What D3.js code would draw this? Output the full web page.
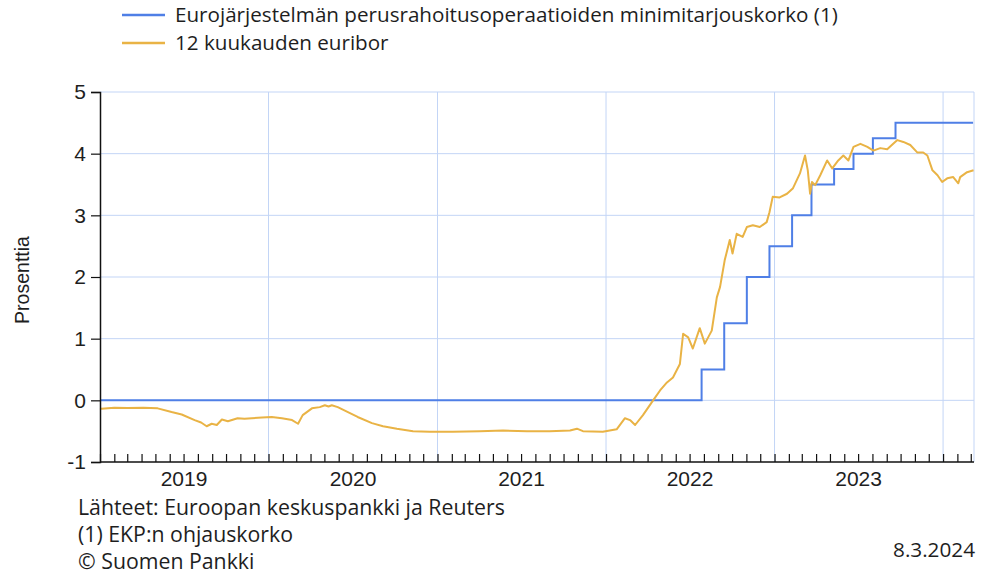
<!DOCTYPE html>
<html><head><meta charset="utf-8">
<script src="https://cdn.jsdelivr.net/npm/d3@7"></script>
<style>
body{margin:0;background:#fff}
text{font-family:"Liberation Sans",Arial,sans-serif;fill:#1e1e1e}
.ui{font-family:"Open Sans","Noto Sans",sans-serif}
</style>
</head><body>
<svg id="c" width="992" height="575"></svg>
<script>
// ---- data ----
const seriesNames = ["Eurojärjestelmän perusrahoitusoperaatioiden minimitarjouskorko (1)", "12 kuukauden euribor"];
const seriesColors = ["#4f7fe6", "#e9b345"];

const ecbDates  = ["2019-01-01","2022-07-27","2022-09-14","2022-11-02","2022-12-21","2023-02-08","2023-03-22","2023-05-10","2023-06-21","2023-08-02","2023-09-20","2024-03-06"];
const ecbValues = [0, 0.5, 1.25, 2.0, 2.5, 3.0, 3.5, 3.75, 4.0, 4.25, 4.5, 4.5];

const euriborDates = [
 "2019-01-01","2019-01-04","2019-02-01","2019-03-02","2019-04-05","2019-05-06","2019-06-05","2019-06-27","2019-07-25","2019-08-08","2019-08-20","2019-08-31","2019-09-11","2019-09-22","2019-10-05","2019-10-26","2019-11-10","2019-11-26","2019-12-18",
 "2020-01-08","2020-01-30","2020-02-21","2020-03-05","2020-03-15","2020-04-04","2020-04-21","2020-05-02","2020-05-10","2020-05-17","2020-05-30","2020-06-21","2020-07-12","2020-08-12","2020-09-05","2020-10-05","2020-11-09","2020-12-15",
 "2021-02-03","2021-04-03","2021-05-23","2021-07-14","2021-09-01","2021-10-15","2021-10-30","2021-11-12","2021-12-25",
 "2022-01-24","2022-02-11","2022-02-22","2022-03-05","2022-03-22","2022-04-13","2022-04-28","2022-05-13","2022-05-26","2022-06-10","2022-06-17","2022-06-28","2022-07-08","2022-07-23","2022-08-03","2022-08-18","2022-08-29","2022-09-05","2022-09-15","2022-09-26","2022-10-02","2022-10-11","2022-10-24","2022-11-02","2022-11-15","2022-11-30","2022-12-15","2022-12-21","2022-12-28",
 "2023-01-12","2023-01-28","2023-02-10","2023-02-25","2023-03-08","2023-03-14","2023-03-19","2023-03-23","2023-03-30","2023-04-10","2023-04-25","2023-05-06","2023-05-19","2023-05-30","2023-06-10","2023-06-21","2023-07-06","2023-07-21","2023-08-03","2023-08-18","2023-09-02","2023-09-15","2023-09-24","2023-10-07","2023-10-22","2023-11-06","2023-11-19","2023-11-28","2023-12-09","2023-12-20","2023-12-30",
 "2024-01-10","2024-01-23","2024-02-03","2024-02-07","2024-02-22","2024-03-07"];
const euriborValues = [
 -0.13,-0.135,-0.12,-0.125,-0.12,-0.13,-0.19,-0.23,-0.32,-0.36,-0.42,-0.38,-0.40,-0.31,-0.34,-0.29,-0.30,-0.29,-0.28,
 -0.27,-0.29,-0.32,-0.38,-0.24,-0.13,-0.11,-0.08,-0.10,-0.08,-0.11,-0.19,-0.27,-0.37,-0.42,-0.46,-0.50,-0.51,
 -0.51,-0.50,-0.49,-0.50,-0.50,-0.49,-0.46,-0.50,-0.51,
 -0.47,-0.29,-0.32,-0.40,-0.24,0.0,0.16,0.29,0.37,0.59,1.08,1.02,0.84,1.17,0.92,1.13,1.67,1.84,2.27,2.60,2.38,2.70,2.65,2.81,2.84,2.81,2.89,3.05,3.30,
 3.29,3.35,3.44,3.68,3.97,3.73,3.35,3.54,3.49,3.65,3.89,3.76,3.89,3.97,3.89,4.11,4.16,4.11,4.05,4.09,4.07,4.16,4.22,4.19,4.14,4.02,4.02,3.97,3.73,3.65,3.54,
 3.60,3.62,3.52,3.62,3.70,3.73];

const yTicks = [-1, 0, 1, 2, 3, 4, 5];
const yearLabels = ["2019", "2020", "2021", "2022", "2023"];
const yearGrid = ["2020", "2021", "2022", "2023", "2024"];
const yLabel = "Prosenttia";
const footnotes = ["Lähteet: Euroopan keskuspankki ja Reuters", "(1) EKP:n ohjauskorko", "© Suomen Pankki"];
const dateStamp = "8.3.2024";
const xStart = "2019-01-01", xEnd = "2024-03-08";

// ---- layout ----
const svg = d3.select("#c");
const L = 100, R = 974, T = 92, B = 462;
const parse = d3.timeParse("%Y-%m-%d");
const x = d3.scaleTime().domain([parse(xStart), parse(xEnd)]).range([L, R]);
const y = d3.scaleLinear().domain([-1, 5]).range([B, T]);
const gridColor = "#c3d5f6";

function fitGroup(sel, width, base) {
  const n = sel.nodes()[0];
  const w = n.getComputedTextLength();
  sel.attr("font-size", (base * width / w).toFixed(2));
}

svg.append("g").selectAll("line").data(yTicks.filter(d => d > -1)).join("line")
  .attr("x1", L).attr("x2", R).attr("y1", d => y(d)).attr("y2", d => y(d))
  .attr("stroke", gridColor).attr("stroke-width", 1);
svg.append("g").selectAll("line").data(yearGrid).join("line")
  .attr("x1", d => x(parse(d + "-01-01"))).attr("x2", d => x(parse(d + "-01-01")))
  .attr("y1", T).attr("y2", B).attr("stroke", gridColor).attr("stroke-width", 1);
svg.append("line").attr("x1", R).attr("x2", R).attr("y1", T).attr("y2", B).attr("stroke", gridColor);

const ecb = ecbDates.map((d, i) => ({d: parse(d), v: ecbValues[i]}));
const eur = euriborDates.map((d, i) => ({d: parse(d), v: euriborValues[i]}));
svg.append("path").datum(ecb)
  .attr("d", d3.line().x(p => x(p.d)).y(p => y(p.v)).curve(d3.curveStepAfter))
  .attr("fill", "none").attr("stroke", seriesColors[0]).attr("stroke-width", 2);
svg.append("path").datum(eur)
  .attr("d", d3.line().x(p => x(p.d)).y(p => y(p.v)))
  .attr("fill", "none").attr("stroke", seriesColors[1]).attr("stroke-width", 2).attr("stroke-linejoin", "round");

const yAx = svg.append("g").attr("transform", `translate(${L},0)`)
  .call(d3.axisLeft(y).tickValues(yTicks).tickFormat(d => String(d)).tickSize(9).tickPadding(5));
yAx.select(".domain").attr("stroke", "#111").attr("stroke-width", 1.5);
yAx.selectAll(".tick line").attr("stroke", "#111").attr("stroke-width", 1.2);
yAx.selectAll("text").attr("font-size", 21).attr("fill", "#1e1e1e");

const xAx = svg.append("g").attr("transform", `translate(0,${B})`)
  .call(d3.axisBottom(x).ticks(d3.timeMonth.every(1)).tickSize(-8).tickFormat(""));
xAx.select(".domain").attr("stroke", "#111").attr("stroke-width", 1.5).attr("d", `M${L},0H${R}`);
xAx.selectAll(".tick line").attr("stroke", "#111").attr("stroke-width", 1.2);
svg.append("g").selectAll("text").data(yearLabels).join("text")
  .attr("x", d => x(parse(d + "-07-02"))).attr("y", 486)
  .attr("text-anchor", "middle").attr("font-size", 21).text(d => d);

svg.append("text").attr("transform", "translate(29,280) rotate(-90)")
  .attr("text-anchor", "middle").attr("font-size", 19.5).text(yLabel);

const lg = svg.append("g").selectAll("g").data(seriesNames).join("g")
  .attr("transform", (d, i) => `translate(0,${15 + i * 28})`);
lg.append("line").attr("x1", 122).attr("x2", 165).attr("stroke", (d, i) => seriesColors[i]).attr("stroke-width", 2.5);
const lgText = lg.append("text").attr("class", "ui").attr("x", 175).attr("y", 7).attr("font-size", 19).text(d => d);
fitGroup(lgText, 663, 19);

const fn = svg.append("g").selectAll("text").data(footnotes).join("text")
  .attr("class", "ui").attr("x", 78).attr("y", (d, i) => 515 + i * 27).attr("font-size", 19).text(d => d);
fitGroup(fn, 427, 19);
const ds = svg.append("text").attr("class", "ui").attr("x", 975).attr("y", 557).attr("text-anchor", "end").attr("font-size", 19).text(dateStamp);
fitGroup(ds, 82, 19);
</script>
</body></html>
